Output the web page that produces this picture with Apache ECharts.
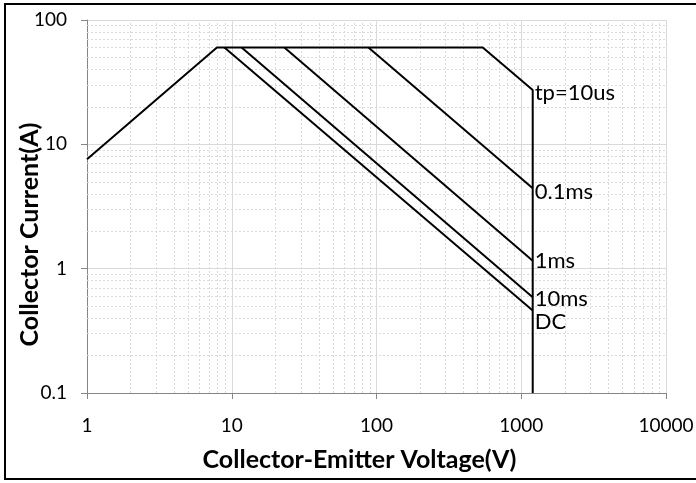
<!DOCTYPE html>
<html>
<head>
<meta charset="utf-8">
<script src="https://cdn.jsdelivr.net/npm/echarts@6/dist/echarts.min.js"></script>
<style>
html,body{margin:0;padding:0;background:#fff;}
#chart{width:696px;height:483px;}
</style>
</head>
<body>
<div id="chart"></div>
<script>
// ---- data ----
const envelopeV = [1, 7.9, 542, 1200, 1200];
const envelopeI = [7.6, 60, 60, 27.3, 0.1];
const line01msV = [88, 1200];
const line01msI = [60, 4.43];
const line1msV = [23.1, 1200];
const line1msI = [60, 1.16];
const line10msV = [11.7, 1200];
const line10msI = [60, 0.59];
const lineDCV = [8.9, 1200];
const lineDCI = [60, 0.46];
const curveLabels = ['tp=10us', '0.1ms', '1ms', '10ms', 'DC'];
const xTickLabels = ['1', '10', '100', '1000', '10000'];
const yTickLabels = ['0.1', '1', '10', '100'];

const FONT = 'Lato';

function pairs(xs, ys) { return xs.map((x, i) => [x, ys[i]]); }

// minor grid positions (2..9 in each decade)
const xMinor = [], yMinor = [];
[1, 10, 100, 1000].forEach(d => { for (let k = 2; k <= 9; k++) xMinor.push(k * d); });
[0.1, 1, 10].forEach(d => { for (let k = 2; k <= 9; k++) yMinor.push(+(k * d).toPrecision(6)); });

function labelled(xs, ys, idx, text, offset) {
  return pairs(xs, ys).map((p, i) => i === idx ? {
    value: p,
    label: { show: true, position: 'right', distance: 2, offset: offset || [0, 0],
      formatter: text, color: '#000', fontFamily: FONT, fontSize: 22 }
  } : p);
}

const lineStyle = { color: '#000', width: 2 };
function mkSeries(name, data) {
  return { name, type: 'line', data, showSymbol: true, symbol: 'circle', symbolSize: 0.01,
    itemStyle: { color: '#000' },
    label: { show: false },
    lineStyle, z: 5, silent: true, animation: false,
    emphasis: { disabled: true } };
}

const fmt = v => String(+(+v).toPrecision(6));

const chart = echarts.init(document.getElementById('chart'), null, { renderer: 'canvas' });
chart.setOption({
  animation: false,
  backgroundColor: '#fff',
  grid: { left: 87, right: 30, top: 20, bottom: 90, containLabel: false, outerBoundsMode: 'none' },
  xAxis: {
    type: 'log', logBase: 10, min: 1, max: 10000,
    name: 'Collector-Emitter Voltage(V)', nameLocation: 'middle', nameGap: 54,
    nameTextStyle: { fontFamily: FONT, fontSize: 25, fontWeight: 'bold', color: '#000', padding: [0, 34, 0, 0] },
    axisLine: { show: true, lineStyle: { color: '#868686', width: 1 } },
    axisTick: { show: true, length: 6, lineStyle: { color: '#868686' } },
    axisLabel: { fontFamily: FONT, fontSize: 19, color: '#000', margin: 23,
      formatter: v => { const s = fmt(v); return xTickLabels.includes(s) ? s : ''; } },
    splitLine: { show: true, lineStyle: { color: '#d9d9d9', width: 1 } },
    minorTick: { show: false }, minorSplitLine: { show: false }
  },
  yAxis: {
    type: 'log', logBase: 10, min: 0.1, max: 100,
    name: 'Collector Current(A)', nameLocation: 'middle', nameGap: 45, nameMoveOverlap: false,
    nameTextStyle: { fontFamily: FONT, fontSize: 25, fontWeight: 'bold', color: '#000', padding: [0, 56, 0, 0] },
    axisLine: { show: true, lineStyle: { color: '#868686', width: 1 } },
    axisTick: { show: true, length: 6, lineStyle: { color: '#868686' } },
    axisLabel: { fontFamily: FONT, fontSize: 19, color: '#000', margin: 20,
      formatter: v => { const s = fmt(v); return yTickLabels.includes(s) ? s : ''; } },
    splitLine: { show: true, lineStyle: { color: '#d9d9d9', width: 1 } },
    minorTick: { show: false }, minorSplitLine: { show: false }
  },
  series: [
    {
      name: 'minor grid', type: 'line', data: [], silent: true, z: 1,
      markLine: {
        silent: true, symbol: 'none', animation: false,
        label: { show: false },
        lineStyle: { color: '#d9d9d9', type: [2, 2], width: 1 },
        emphasis: { disabled: true },
        data: xMinor.map(v => ({ xAxis: v })).concat(yMinor.map(v => ({ yAxis: v })))
      }
    },
    mkSeries('envelope', labelled(envelopeV, envelopeI, 3, curveLabels[0], [0, 3])),
    mkSeries('0.1ms', labelled(line01msV, line01msI, 1, curveLabels[1], [0, 4])),
    mkSeries('1ms', labelled(line1msV, line1msI, 1, curveLabels[2], [0, 0])),
    mkSeries('10ms', labelled(line10msV, line10msI, 1, curveLabels[3], [0, 2])),
    mkSeries('DC', labelled(lineDCV, lineDCI, 1, curveLabels[4], [0, 11]))
  ],
  graphic: [{
    type: 'rect', silent: true, z: 100,
    shape: { x: 5, y: 4, width: 720, height: 475 },
    style: { fill: 'none', stroke: '#000', lineWidth: 2 }
  }]
});
</script>
</body>
</html>
